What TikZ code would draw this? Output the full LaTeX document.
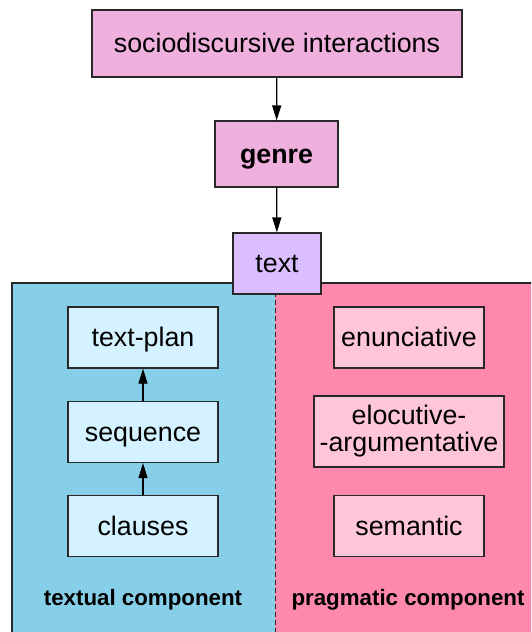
\documentclass[tikz,border=0pt]{standalone}
\usepackage{fontspec}
\setmainfont{Liberation Sans}
\usetikzlibrary{arrows.meta}
\definecolor{topfill}{RGB}{239,176,222}
\definecolor{textfill}{RGB}{218,190,255}
\definecolor{bluebg}{RGB}{135,206,232}
\definecolor{pinkbg}{RGB}{255,137,172}
\definecolor{lightblue}{RGB}{212,242,255}
\definecolor{lightpink}{RGB}{255,198,218}
\definecolor{edge}{RGB}{40,40,40}
\tikzset{
  box/.style={draw=edge, line width=1.2pt, inner sep=0pt, align=center,
    font=\fontsize{26.8}{27}\selectfont},
  oneline/.style={text height=19.4pt, text depth=1pt},
  topbox/.style={box, oneline, fill=topfill},
  tbox/.style={box, oneline, fill=lightblue, minimum width=150pt, minimum height=61pt},
  pbox/.style={box, fill=lightpink, minimum width=150pt, minimum height=61pt},
  conn/.style={draw=black, line width=1.2pt, -{Triangle[length=15pt,width=9pt]}},
  complabel/.style={font=\fontsize{22.3}{26}\selectfont\bfseries, inner sep=0pt}
}
\begin{document}
\begin{tikzpicture}[x=1pt,y=-1pt]
\useasboundingbox (0,0) rectangle (531,632);
\clip (0,0) rectangle (531,632);
% background regions
\fill[bluebg] (12,283) rectangle (275,640);
\fill[pinkbg] (275,283) rectangle (545,640);
\draw[edge, line width=2pt] (12,283) rectangle (545,640);
\coordinate (dtop) at (275,284);
\coordinate (dbot) at (275,632);
\draw[edge, line width=1pt, dash pattern=on 5pt off 3pt] (dtop) -- (dbot);
% top chain
\node[topbox, minimum width=370pt, minimum height=67pt] (socio) at (277,43.5) {sociodiscursive interactions};
\node[topbox, minimum width=123pt, minimum height=66pt] (genre) at (276.5,154) {\bfseries genre};
\node[box, oneline, fill=textfill, minimum width=88pt, minimum height=61pt] (text) at (277,263.5) {text};
\draw[conn] (socio) -- (genre);
\draw[conn] (genre) -- (text);
% textual component
\node[tbox] (plan) at (143,337.5) {text-plan};
\node[tbox] (seq) at (143,432) {sequence};
\node[tbox] (cla) at (143,526) {clauses};
\draw[conn] (cla) -- (seq);
\draw[conn] (seq) -- (plan);
% pragmatic component
\node[pbox, oneline] (enun) at (409,337.5) {enunciative};
\node[pbox, minimum width=190pt, minimum height=71pt] (eloc) at (409,431.5) {elocutive-\\-argumentative};
\node[pbox, oneline] (sem) at (409,526) {semantic};
% labels
\node[complabel] (tlab) at (143,600) {textual component};
\node[complabel] (plab) at (408,600) {pragmatic component};
\end{tikzpicture}
\end{document}
